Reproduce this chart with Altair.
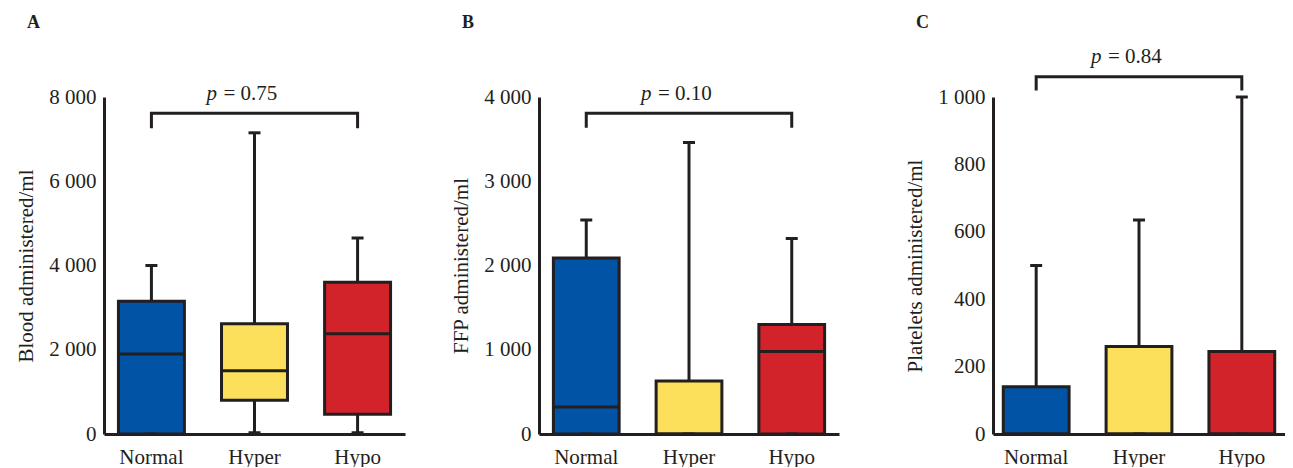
import altair as alt
import pandas as pd

groups = ["Normal", "Hyper", "Hypo"]
colors = ["#0053a5", "#fce05b", "#d2232a"]

# Panel A: blood
blood_min = [0, 30, 30]
blood_q1 = [0, 800, 470]
blood_med = [1900, 1500, 2380]
blood_q3 = [3150, 2620, 3600]
blood_max = [4000, 7150, 4650]

# Panel B: FFP
ffp_min = [0, 0, 0]
ffp_q1 = [0, 0, 0]
ffp_med = [320, 0, 980]
ffp_q3 = [2090, 630, 1300]
ffp_max = [2540, 3460, 2320]

# Panel C: platelets
plt_min = [0, 0, 0]
plt_q1 = [0, 0, 0]
plt_med = [0, 0, 0]
plt_q3 = [140, 260, 245]
plt_max = [500, 635, 1000]

p_values = ["0.75", "0.10", "0.84"]
y_titles = ["Blood administered/ml", "FFP administered/ml", "Platelets administered/ml"]
y_max = [8000, 4000, 1000]
y_ticks = [[0, 2000, 4000, 6000, 8000], [0, 1000, 2000, 3000, 4000], [0, 200, 400, 600, 800, 1000]]
bracket_y = [7613, 3806, 1060]
leg_y = [7257, 3636, 1019]
ptext_y = [7930, 3964, 1101]
letters = ["A", "B", "C"]

INK = "#231f20"
FONT = "Liberation Serif"


def panel(i, mins, q1s, meds, q3s, maxs, width, title_offset, pad_outer=0.14):
    df = pd.DataFrame({"group": groups, "min": mins, "q1": q1s, "med": meds,
                       "q3": q3s, "max": maxs, "color": colors})
    xs = alt.Scale(domain=groups, paddingInner=0.36, paddingOuter=pad_outer)
    xax = alt.Axis(title=None, labelAngle=0, ticks=False, domainWidth=3, domainColor=INK,
                   labelFont=FONT, labelFontSize=21, labelColor=INK, labelPadding=12)
    x = alt.X("group:N", scale=xs, axis=xax, sort=groups)
    ys = alt.Scale(domain=[0, y_max[i]], nice=False, zero=True)
    yax = alt.Axis(title=y_titles[i], values=y_ticks[i], grid=False, ticks=False,
                   domainWidth=3, domainColor=INK, labelFont=FONT, labelFontSize=21,
                   labelColor=INK, labelPadding=8,
                   labelExpr="datum.value >= 1000 ? floor(datum.value/1000) + ' 000' : '' + datum.value",
                   titleFont=FONT, titleFontSize=21, titleFontWeight="normal", titleColor=INK,
                   titlePadding=12)

    def Y(f):
        return alt.Y(f"{f}:Q", scale=ys, axis=yax)

    base = alt.Chart(df)
    upper = base.mark_rule(color=INK, strokeWidth=3).encode(x=x, y=Y("q3"), y2="max")
    lower = base.mark_rule(color=INK, strokeWidth=3).encode(x=x, y=Y("min"), y2="q1")
    box = base.mark_bar(stroke=INK, strokeWidth=3, opacity=1).encode(
        x=x, y=Y("q1"), y2="q3",
        color=alt.Color("color:N", scale=None))
    cap_top = base.mark_tick(color=INK, size=12, thickness=3, opacity=1, orient="horizontal").encode(x=x, y=Y("max"))
    cap_bot = base.mark_tick(color=INK, size=12, thickness=3, opacity=1, orient="horizontal").encode(x=x, y=Y("min"))
    med = base.mark_tick(color=INK, size=66, thickness=3, opacity=1, orient="horizontal").encode(x=x, y=Y("med"))

    br = pd.DataFrame({"group": ["Normal", "Normal", "Hypo", "Hypo"],
                       "v": [leg_y[i], bracket_y[i], bracket_y[i], leg_y[i]],
                       "o": [0, 1, 2, 3]})
    bracket = alt.Chart(br).mark_line(color=INK, strokeWidth=3, strokeCap="butt", strokeJoin="miter").encode(
        x=x, y=Y("v"), order="o:Q")

    tx = pd.DataFrame({"group": ["Hyper"], "v": [ptext_y[i]], "p": ["p"], "rest": ["= " + p_values[i]]})
    ptxt = alt.Chart(tx).mark_text(font=FONT, fontSize=21, fontStyle="italic", align="left",
                                   baseline="alphabetic", dx=-48, color=INK).encode(
        x=x, y=Y("v"), text="p:N")
    rtxt = alt.Chart(tx).mark_text(font=FONT, fontSize=21, align="left",
                                   baseline="alphabetic", dx=-31, color=INK).encode(
        x=x, y=Y("v"), text="rest:N")

    return alt.layer(upper, lower, box, med, cap_top, cap_bot, bracket, ptxt, rtxt).properties(
        width=width, height=337,
        title=alt.TitleParams(letters[i], anchor="start", frame="group", dx=-77, font=FONT, fontSize=18,
                              fontWeight="bold", color=INK, offset=title_offset))


pa = panel(0, blood_min, blood_q1, blood_med, blood_q3, blood_max, 301, 51)
pb = panel(1, ffp_min, ffp_q1, ffp_med, ffp_q3, ffp_max, 300, 51)
pc = panel(2, plt_min, plt_q1, plt_med, plt_q3, plt_max, 292, 14, pad_outer=0.1)

chart = alt.hconcat(alt.hconcat(pa, pb, spacing=45), pc, spacing=65).properties(
    padding={"left": 7, "top": 5, "right": 0, "bottom": 0}
).configure_view(stroke=None)

chart.save("out.html", embed_options={"renderer": "svg", "actions": False})
